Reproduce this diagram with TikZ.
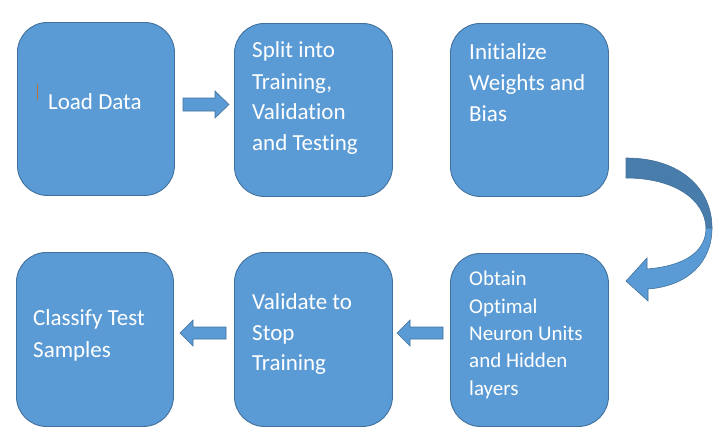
\documentclass[tikz,border=0pt]{standalone}
\usepackage{fontspec}
\setmainfont[Ligatures={NoCommon,NoContextual}]{Carlito}
\definecolor{boxfill}{HTML}{5B9BD5}
\definecolor{boxline}{HTML}{41719C}
\definecolor{backfill}{HTML}{487CAA}
\definecolor{cursor}{HTML}{B5743A}
\begin{document}
\begin{tikzpicture}[x=1pt,y=-1pt,
  box/.style={draw=boxline, fill=boxfill, line width=0.9pt, rounded corners=30pt,
    anchor=north west, inner sep=0pt},
  txt/.style={anchor=base west, inner sep=0pt, text=white, font=\fontsize{23}{28}\selectfont},
  stxt/.style={txt, font=\fontsize{21}{26}\selectfont},
  blockarrow/.style={draw=boxline, fill=boxfill, line width=0.6pt, line join=miter}]
\useasboundingbox (0,0) rectangle (720,447);

% boxes
\node[box, minimum width=157pt, minimum height=173pt] (b1) at (17,22) {};
\node[box, minimum width=158pt, minimum height=173pt] (b2) at (234,23) {};
\node[box, minimum width=158pt, minimum height=173pt] (b3) at (450,23) {};
\node[box, minimum width=158pt, minimum height=173pt] (b6) at (450,253) {};
\node[box, minimum width=158pt, minimum height=174pt] (b5) at (234,252) {};
\node[box, minimum width=157pt, minimum height=174pt] (b4) at (16,252) {};

% texts
\draw[cursor, line width=0.6pt] (37,84) -- (37,100);
\node[txt] (t1) at (48,109) {Load Data};

\node[txt] (t2a) at (252,57) {Split into};
\node[txt] (t2b) at (252,89) {Training,};
\node[txt] (t2c) at (252,119) {Validation};
\node[txt] (t2d) at (252,150) {and Testing};

\node[txt] (t3a) at (469,59) {Initialize};
\node[txt] (t3b) at (469,90) {Weights and};
\node[txt] (t3c) at (469,121) {Bias};

\node[stxt] (t6a) at (469,285) {Obtain};
\node[stxt] (t6b) at (469,313) {Optimal};
\node[stxt] (t6c) at (469,340) {Neuron Units};
\node[stxt] (t6d) at (469,367) {and Hidden};
\node[stxt] (t6e) at (469,395) {layers};

\node[txt] (t5a) at (252,309) {Validate to};
\node[txt] (t5b) at (252,340) {Stop};
\node[txt] (t5c) at (252,370) {Training};

\node[txt] (t4a) at (33,325) {Classify Test};
\node[txt] (t4b) at (33,357) {Samples};

% block arrows
\draw[blockarrow] (183,98) -- (215,98) -- (215,91) -- (229,104.5) -- (215,118) -- (215,111) -- (183,111) -- cycle;
\draw[blockarrow] (443,327) -- (410,327) -- (410,320) -- (397,333) -- (410,346) -- (410,339) -- (443,339) -- cycle;
\draw[blockarrow] (226,327) -- (193,327) -- (193,320) -- (180,333) -- (193,346) -- (193,339) -- (226,339) -- cycle;

% curved arrow: back (upper) part
\draw[draw=boxline, fill=backfill, line width=0.6pt]
  (626,158) .. controls (680,158) and (712,188) .. (712,228)
  -- (706,228) .. controls (705,200) and (675,178) .. (626,178) -- cycle;
% front (lower) part with head
\draw[draw=boxline, fill=boxfill, line width=0.6pt, line join=miter]
  (712,228) .. controls (712,262) and (688,286) .. (648,289)
  -- (648,301) -- (626,281) -- (647,258) -- (647,269)
  .. controls (684,266) and (706,252) .. (706,228) -- cycle;
\end{tikzpicture}
\end{document}
